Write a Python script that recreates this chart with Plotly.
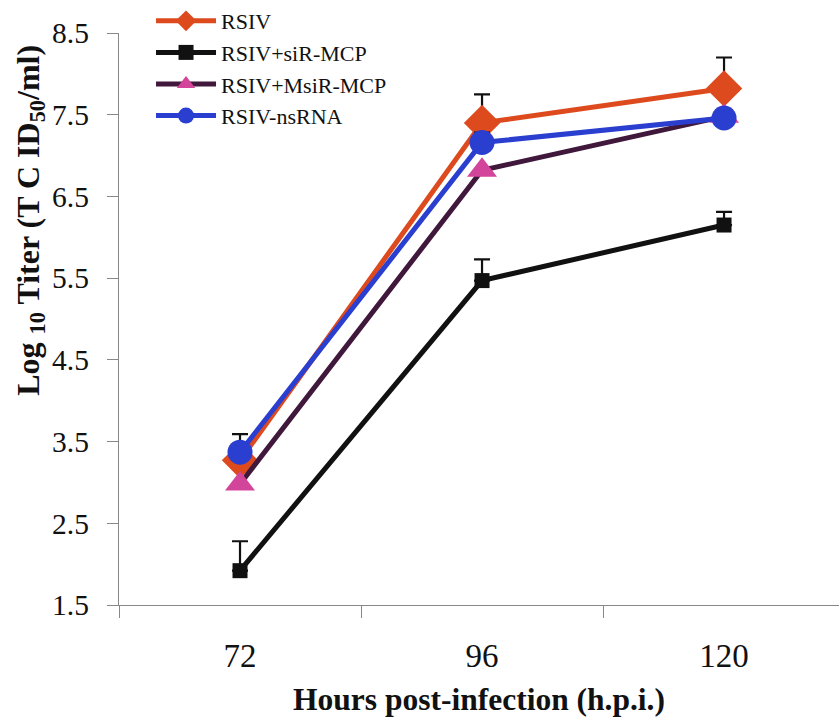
import plotly.graph_objects as go

hours = ["72", "96", "120"]
series_names = ["RSIV", "RSIV+siR-MCP", "RSIV+MsiR-MCP", "RSIV-nsRNA"]
rsiv = [3.27, 7.40, 7.82]
rsiv_err = [0.0, 0.35, 0.38]
sir = [1.92, 5.47, 6.15]
sir_err = [0.36, 0.26, 0.16]
msir = [2.98, 6.82, 7.48]
msir_err = [0.0, 0.0, 0.0]
ns = [3.37, 7.16, 7.46]
ns_err = [0.22, 0.12, 0.0]
y_ticks = [1.5, 2.5, 3.5, 4.5, 5.5, 6.5, 7.5, 8.5]

styles = [
    dict(line="#dd4a1e", marker="#dd4a1e", symbol="diamond", size=28),
    dict(line="#111111", marker="#111111", symbol="square", size=15),
    dict(line="#40183c", marker="#d3449b", symbol="triangle-up", size=26),
    dict(line="#2a3ed0", marker="#2a3ed0", symbol="circle", size=25),
]
values = [rsiv, sir, msir, ns]
errors = [rsiv_err, sir_err, msir_err, ns_err]

fig = go.Figure()
for name, vals, errs, st in zip(series_names, values, errors, styles):
    fig.add_trace(go.Scatter(
        x=hours, y=vals, name=name, mode="lines+markers",
        line=dict(color=st["line"], width=5),
        marker=dict(color=st["marker"], symbol=st["symbol"], size=st["size"],
                    line=dict(width=0)),
        error_y=dict(type="data", array=errs, arrayminus=[0] * len(errs),
                     symmetric=False, color="#111111", thickness=2.2, width=8),
        cliponaxis=False,
    ))

serif = "Liberation Serif, Times New Roman, serif"
fig.update_layout(
    width=839, height=718,
    margin=dict(l=119, r=0, t=33, b=113, autoexpand=False),
    paper_bgcolor="white", plot_bgcolor="white",
    font=dict(family=serif, color="#111111"),
    showlegend=True,
    legend=dict(xref="container", yref="container",
                x=0.18, y=1.006, xanchor="left", yanchor="top",
                font=dict(family=serif, size=22, color="#111111"),
                bgcolor="rgba(0,0,0,0)", itemwidth=60, tracegroupgap=0),
    xaxis=dict(
        type="category", range=[-0.5, 2.475], tickson="boundaries",
        ticks="outside", ticklen=12, tickcolor="#888888", tickwidth=1.3,
        showline=True, linecolor="#888888", linewidth=1.3,
        showgrid=False, zeroline=False, automargin=False,
        tickfont=dict(family=serif, size=33, color="#111111"),
        ticklabelstandoff=21,
        title=dict(text="<b>Hours post-infection (h.p.i.)</b>",
                   font=dict(family=serif, size=31.5, color="#111111"),
                   standoff=15),
    ),
    yaxis=dict(
        range=[1.5, 8.5], tickvals=y_ticks,
        ticktext=[f"{v:.1f}" for v in y_ticks],
        ticks="outside", ticklen=11, tickcolor="#888888", tickwidth=1.3,
        showline=True, linecolor="#888888", linewidth=1.3,
        showgrid=False, zeroline=False, automargin=False,
        tickfont=dict(family=serif, size=29.5, color="#111111"),
        ticklabelstandoff=12,
    ),
    annotations=[dict(
        text="<b>Log <sub>10</sub> Titer (T C ID<sub>50</sub>/ml)</b>",
        textangle=-90, xref="paper", yref="paper", x=-0.124, y=0.673,
        xanchor="center", yanchor="middle", showarrow=False,
        font=dict(family=serif, size=32, color="#111111"),
    )],
)

fig.write_html("out.html", config={"displayModeBar": False},
               post_script="document.body.style.margin='0';document.body.style.padding='0';")
